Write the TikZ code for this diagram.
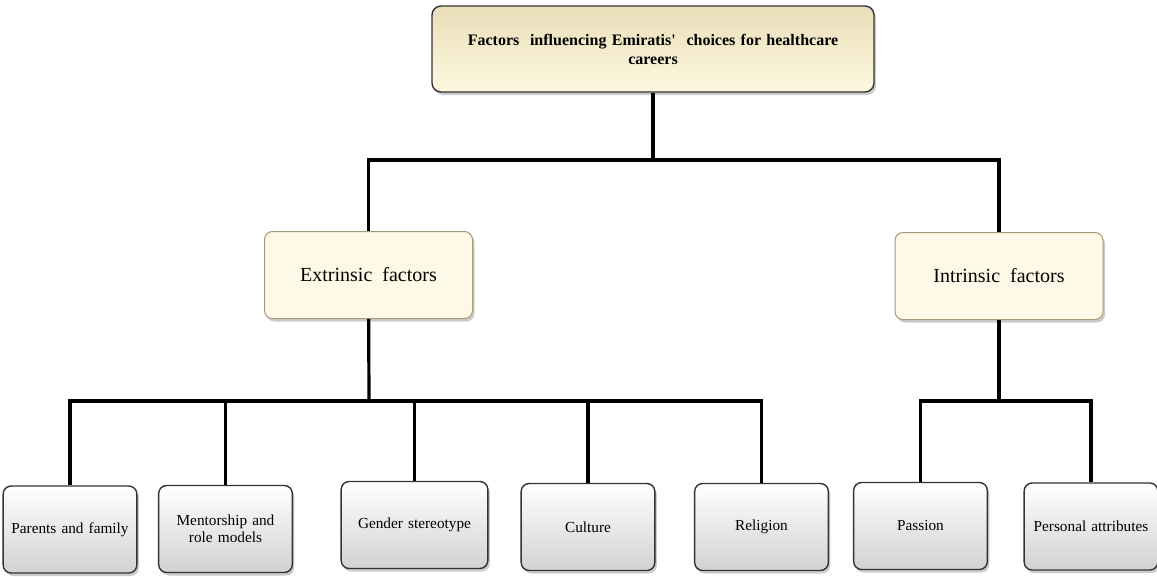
\documentclass[tikz,border=0pt]{standalone}
\usepackage{fontspec}
\setmainfont{Liberation Serif}
\usetikzlibrary{shadows,positioning}

\begin{document}
\begin{tikzpicture}[x=1pt, y=-1pt,
    link/.style={line width=3.2pt},
    topbox/.style={draw=black!80, line width=1.4pt, rounded corners=9pt, top color=tanTop, bottom color=tanBottom,
      minimum width=442pt, minimum height=86pt, text width=400pt, align=center, font=\bfseries\fontsize{16}{19}\selectfont,
      drop shadow={shadow xshift=2pt, shadow yshift=-3pt, fill=black!50, opacity=0.4}},
    factorbox/.style={draw=tanBorder, line width=1pt, rounded corners=8pt, fill=creamFill,
      minimum width=208pt, minimum height=87pt, font=\fontsize{20}{23}\selectfont,
      drop shadow={shadow xshift=2pt, shadow yshift=-3pt, fill=black!50, opacity=0.4}},
    leafbox/.style={draw=black!80, line width=1.4pt, rounded corners=8pt, top color=white, bottom color=leafBottom,
      minimum width=131pt, minimum height=87pt, text width=127pt, align=center, font=\fontsize{15.3}{16.5}\selectfont,
      drop shadow={shadow xshift=2pt, shadow yshift=-3pt, fill=black!50, opacity=0.4}},
  ]

    % Colors
    \definecolor{tanTop}{HTML}{EADEB9}
    \definecolor{tanBottom}{HTML}{FEF8DF}
    \definecolor{creamFill}{HTML}{FDF9E6}
    \definecolor{tanBorder}{HTML}{A39B78}
    \definecolor{leafBottom}{HTML}{D2D2D2}

    \useasboundingbox (0,0) rectangle (1157,576);

    %draw the top box
    \node[topbox] (factors) at (653,49) {Factors\ \ influencing Emiratis\textquotesingle\ \ choices for healthcare\\ careers};

    %draw the two factor groups
    \node[factorbox] (extrinsic) at (368.5,275) {Extrinsic\ \ factors};
    \node[factorbox] (intrinsic) at (999,276) {Intrinsic\ \ factors};

    %draw the extrinsic leaves
    \node[leafbox] (parents) at (70,529.5) {Parents and family};
    \node[leafbox] (mentorship) at (225.5,529) {Mentorship and\\ role models};
    \node[leafbox, minimum width=145pt, text width=140pt] (gender) at (414.5,525) {Gender stereotype};
    \node[leafbox] (culture) at (588,527) {Culture};
    \node[leafbox] (religion) at (761.5,527) {Religion};

    %draw the intrinsic leaves
    \node[leafbox] (passion) at (920.5,526) {Passion};
    \node[leafbox] (personal) at (1091,526.5) {Personal attributes};

    %join points of the tree
    \coordinate (topJoin) at (653,160);
    \coordinate (extJoin) at (369,401);
    \coordinate (intJoin) at (999,401);

    %draw the links
    \draw[link] (factors) -- (topJoin);
    \draw[link] (topJoin) -| (extrinsic);
    \draw[link] (topJoin) -| (intrinsic);

    \draw[link] (extrinsic) -- (extJoin);
    \draw[link] (extJoin) -| (parents);
    \draw[link] (extJoin) -| (mentorship);
    \draw[link] (extJoin) -| (gender);
    \draw[link] (extJoin) -| (culture);
    \draw[link] (extJoin) -| (religion);

    \draw[link] (intrinsic) -- (intJoin);
    \draw[link] (intJoin) -| (passion);
    \draw[link] (intJoin) -| (personal);

\end{tikzpicture}
\end{document}
